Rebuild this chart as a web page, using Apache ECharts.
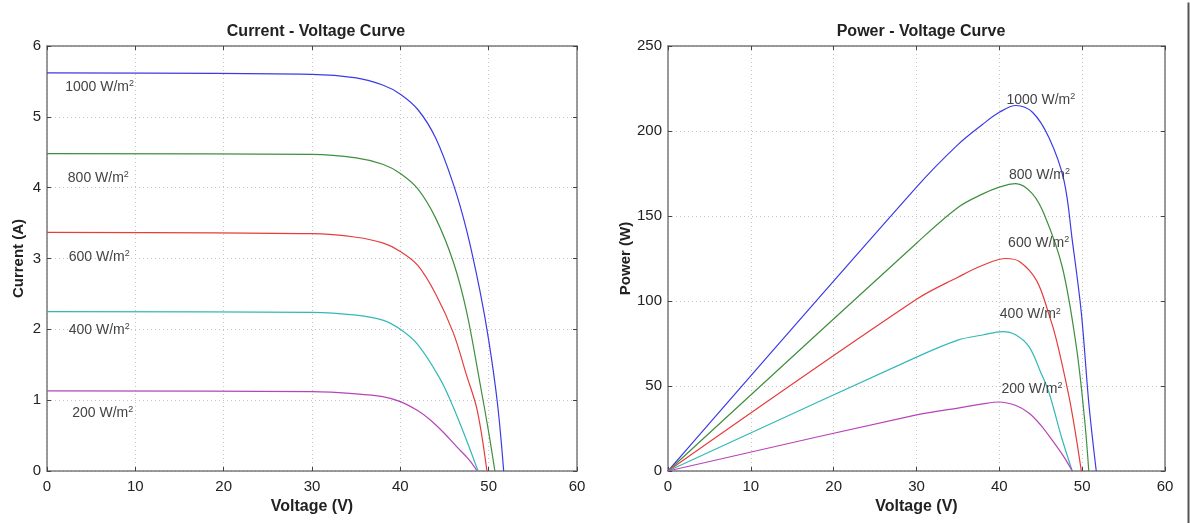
<!DOCTYPE html>
<html>
<head>
<meta charset="utf-8">
<script src="https://cdn.jsdelivr.net/npm/echarts@6/dist/echarts.min.js"></script>
<style>
  html, body { margin: 0; padding: 0; background: #fff; }
  #main { width: 1190px; height: 523px; }
</style>
</head>
<body>
<div id="main"></div>
<script>
// irradiance levels (W/m2)
const levels = ['1000', '800', '600', '400', '200'];
const colors = ['#3b3be6', '#3f8f3f', '#e63c3c', '#33b8b8', '#b844b8'];

// I-V curves: voltage (V) and current (A)
const ivV1000 = [0, 30, 35, 38, 40, 42, 44, 46, 47.5, 49, 50, 51, 51.7];
const ivI1000 = [5.62, 5.6, 5.55, 5.45, 5.32, 5.1, 4.7, 4.05, 3.4, 2.55, 1.85, 0.95, 0];
const ivV800 = [0, 30, 35, 38, 40, 42, 44, 46, 47.5, 49, 50, 50.7];
const ivI800 = [4.48, 4.47, 4.42, 4.33, 4.2, 3.98, 3.57, 2.95, 2.25, 1.25, 0.55, 0];
const ivV600 = [0, 30, 35, 38, 40, 42, 44, 46, 47.5, 48.7, 49.8];
const ivI600 = [3.37, 3.35, 3.3, 3.22, 3.1, 2.9, 2.5, 1.95, 1.35, 0.86, 0];
const ivV400 = [0, 30, 35, 38, 40, 42, 44.5, 46, 47.6, 48.8];
const ivI400 = [2.25, 2.24, 2.2, 2.13, 2.0, 1.78, 1.3, 0.9, 0.4, 0];
const ivV200 = [0, 30, 35, 38, 40, 42, 43.4, 45, 46.4, 47.7, 48.7];
const ivI200 = [1.13, 1.12, 1.09, 1.05, 0.98, 0.85, 0.72, 0.53, 0.34, 0.17, 0];

// P-V curves: voltage (V) and power (W)
const pvV1000 = [0, 30, 35, 38, 40, 42, 44, 46, 47.8, 48.8, 49.9, 50.8, 51.7];
const pvP1000 = [0, 167, 192, 204, 211, 215, 211, 196, 171, 136, 93, 40, 0];
const pvV800 = [0, 30, 35, 38, 40, 42, 44, 45.5, 47.6, 49.3, 50.3, 50.8];
const pvP800 = [0, 134, 155, 163, 167, 169, 163, 150, 120, 73, 30, 0];
const pvV600 = [0, 30, 35, 38, 40.8, 42.5, 44.5, 46, 46.9, 48.4, 49.2, 49.9];
const pvP600 = [0, 101, 114, 121, 125, 123, 112, 92, 77, 44, 22, 0];
const pvV400 = [0, 30, 35, 38, 40.4, 42, 43.6, 45, 46, 47.5, 48.8];
const pvP400 = [0, 67, 77, 80, 82, 80, 73, 58, 46, 20, 0];
const pvV200 = [0, 30, 35, 38, 40, 42, 43.6, 45, 46.4, 47.7, 48.8];
const pvP200 = [0, 33, 37, 39.5, 40.6, 38.5, 34, 27, 18, 9, 0];

// label anchors (data coords)
const ivLabelAt = [[2.0, 5.42], [2.3, 4.14], [2.4, 3.02], [2.4, 1.99], [2.8, 0.82]];
const pvLabelAt = [[40.8, 218], [41.1, 174], [41.0, 134], [40.0, 92], [40.2, 48]];

const ivSets = [[ivV1000, ivI1000], [ivV800, ivI800], [ivV600, ivI600], [ivV400, ivI400], [ivV200, ivI200]];
const pvSets = [[pvV1000, pvP1000], [pvV800, pvP800], [pvV600, pvP600], [pvV400, pvP400], [pvV200, pvP200]];

const font = '"Liberation Sans", Arial, sans-serif';

function pairs(xs, ys) {
  return xs.map((x, i) => [x, ys[i]]);
}

function curve(set, idx, xi, yi, labelAt) {
  return {
    type: 'line',
    xAxisIndex: xi,
    yAxisIndex: yi,
    data: pairs(set[0], set[1]),
    showSymbol: false,
    smooth: 0.35,
    lineStyle: { color: colors[idx], width: 1.2 },
    itemStyle: { color: colors[idx] },
    silent: true,
    markPoint: {
      symbol: 'circle',
      symbolSize: 1,
      itemStyle: { color: 'rgba(0,0,0,0)' },
      label: {
        show: true,
        position: 'right',
        distance: 0,
        formatter: levels[idx] + ' W/m{s|2}',
        color: '#444',
        fontSize: 14,
        fontFamily: font,
        lineHeight: 16,
        rich: {
          s: { fontSize: 9, color: '#444', verticalAlign: 'top', lineHeight: 6 }
        }
      },
      data: [{ coord: labelAt[idx] }]
    }
  };
}

function mainX(gi) {
  return {
    type: 'value', gridIndex: gi, min: 0, max: 60, interval: 10,
    axisLine: { show: true, onZero: false, lineStyle: { color: '#7a7a7a', width: 1.5 } },
    axisTick: { show: true, inside: true, length: 4, lineStyle: { color: '#444' } },
    axisLabel: { color: '#222', fontSize: 15, fontFamily: font, margin: 8 },
    splitLine: { show: true, lineStyle: { color: '#c4c4c4', type: [1, 3] } },
    name: 'Voltage (V)', nameLocation: 'middle', nameGap: 26,
    nameTextStyle: { color: '#222', fontSize: 16, fontWeight: 'bold', fontFamily: font }
  };
}

function topX(gi) {
  return {
    type: 'value', gridIndex: gi, position: 'top', min: 0, max: 60, interval: 10,
    axisLine: { show: true, onZero: false, lineStyle: { color: '#7a7a7a', width: 1.5 } },
    axisTick: { show: true, inside: true, length: 4, lineStyle: { color: '#444' } },
    axisLabel: { show: false }, splitLine: { show: false }
  };
}

function mainY(gi, max, interval, name, gap) {
  return {
    type: 'value', gridIndex: gi, min: 0, max: max, interval: interval,
    axisLine: { show: true, onZero: false, lineStyle: { color: '#7a7a7a', width: 1.5 } },
    axisTick: { show: true, inside: true, length: 4, lineStyle: { color: '#444' } },
    axisLabel: { color: '#222', fontSize: 15, fontFamily: font, margin: 6 },
    splitLine: { show: true, lineStyle: { color: '#c4c4c4', type: [1, 3] } },
    name: name, nameLocation: 'middle', nameGap: gap,
    nameTextStyle: { color: '#222', fontSize: 15, fontWeight: 'bold', fontFamily: font }
  };
}

function rightY(gi, max, interval) {
  return {
    type: 'value', gridIndex: gi, position: 'right', min: 0, max: max, interval: interval,
    axisLine: { show: true, onZero: false, lineStyle: { color: '#7a7a7a', width: 1.5 } },
    axisTick: { show: true, inside: true, length: 4, lineStyle: { color: '#444' } },
    axisLabel: { show: false }, splitLine: { show: false }
  };
}

const series = [];
ivSets.forEach((s, i) => series.push(curve(s, i, 0, 0, ivLabelAt)));
pvSets.forEach((s, i) => series.push(curve(s, i, 2, 2, pvLabelAt)));

let myChart = echarts.init(document.getElementById('main'), null, { renderer: 'canvas' });
myChart.setOption({
  backgroundColor: '#fff',
  animation: false,
  title: [
    {
      text: 'Current - Voltage Curve', left: 311, top: 19, textAlign: 'center',
      textStyle: { color: '#222', fontSize: 16, fontWeight: 'bold', fontFamily: font }
    },
    {
      text: 'Power - Voltage Curve', left: 916, top: 19, textAlign: 'center',
      textStyle: { color: '#222', fontSize: 16, fontWeight: 'bold', fontFamily: font }
    }
  ],
  grid: [
    { left: 47, right: 613, top: 46, bottom: 52 },
    { left: 668, right: 25, top: 46, bottom: 52 }
  ],
  xAxis: [mainX(0), topX(0), mainX(1), topX(1)],
  yAxis: [
    mainY(0, 6, 1, 'Current (A)', 21),
    rightY(0, 6, 1),
    mainY(1, 250, 50, 'Power (W)', 33),
    rightY(1, 250, 50)
  ],
  graphic: [
    {
      type: 'line', left: 1186, top: 0,
      shape: { x1: 0, y1: 0, x2: 0, y2: 523 },
      style: { stroke: '#555', lineWidth: 2 }
    }
  ],
  series: series
});
</script>
</body>
</html>
